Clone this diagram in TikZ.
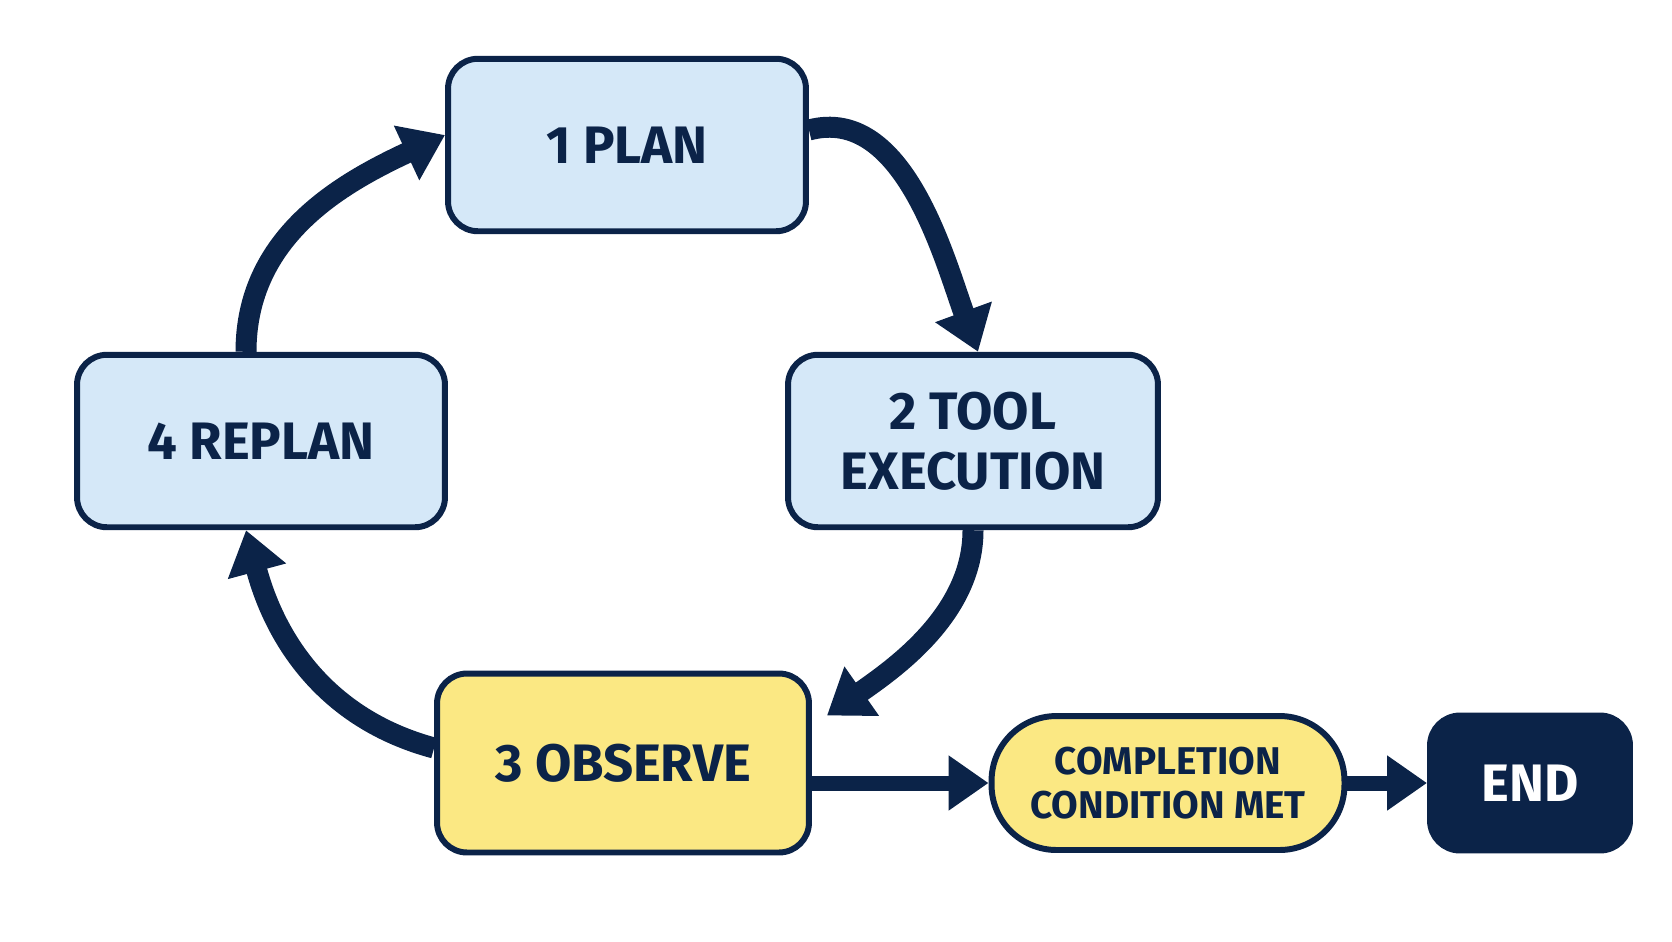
\documentclass[tikz,border=0pt]{standalone}
\usepackage{fontspec}
\setmainfont{Fira Sans}
\usetikzlibrary{arrows.meta}
\usetikzlibrary{positioning}
\definecolor{navy}{HTML}{0B2348}
\definecolor{stageblue}{HTML}{D5E8F8}
\definecolor{stageyellow}{HTML}{FBE883}
\tikzset{
    stage/.style={draw=navy, line width=3.4pt, rounded corners=0.6cm, fill=stageblue,
        minimum height=3.45cm, align=center, text=navy,
        font=\fontsize{30}{34}\selectfont\bfseries},
    stageyel/.style={stage, fill=stageyellow},
    cycle/.style={draw=navy, line width=0.42cm,
        -{Triangle[length=0.85cm,width=1.15cm]}},
    flow/.style={draw=navy, line width=0.3cm,
        -{Triangle[length=0.8cm,width=1.05cm]}},
}
\begin{document}
\begin{tikzpicture}[x=0.02cm, y=-0.02cm]
	\useasboundingbox (0,0) rectangle (1672,941);
	\node[stage, minimum width=7.16cm] (plan) at (627,145) {1 PLAN};
	\node[stage, minimum width=7.4cm] (tool) at (973,441) {2 TOOL\\EXECUTION};
	\node[stageyel, minimum width=7.44cm, minimum height=3.58cm] (observe) at (623,763) {3 OBSERVE};
	\node[stage, minimum width=7.36cm] (replan) at (261,441) {4 REPLAN};
	\node[stageyel, minimum width=7.06cm, minimum height=2.68cm, rounded corners=1.3cm,
		font=\fontsize{22}{25}\selectfont\bfseries] (done) at (1168,783) {COMPLETION\\CONDITION MET};
	\node[stage, fill=navy, text=white, minimum width=4cm, minimum height=2.7cm] (end) at (1530,783) {END};
	% loop
	\draw[cycle] ([yshift=0.3cm]plan.east) to[out=15, in=110, looseness=0.9] ([xshift=0.1cm]tool.north);
	\draw[cycle] (tool.south) to[out=-90, in=35, looseness=0.9] ([xshift=0.3cm, yshift=-0.9cm]observe.north east);
	\draw[cycle] ([yshift=0.3cm]observe.west) to[out=165, in=-75] ([xshift=-0.3cm]replan.south);
	\draw[cycle] ([xshift=-0.3cm]replan.north) to[out=90, in=205] ([yshift=0.2cm]plan.west);
	% exit
	\draw[flow] (observe.east |- done.west) -- (done.west);
	\draw[flow] (done.east) -- (end.west);
\end{tikzpicture}
\end{document}
